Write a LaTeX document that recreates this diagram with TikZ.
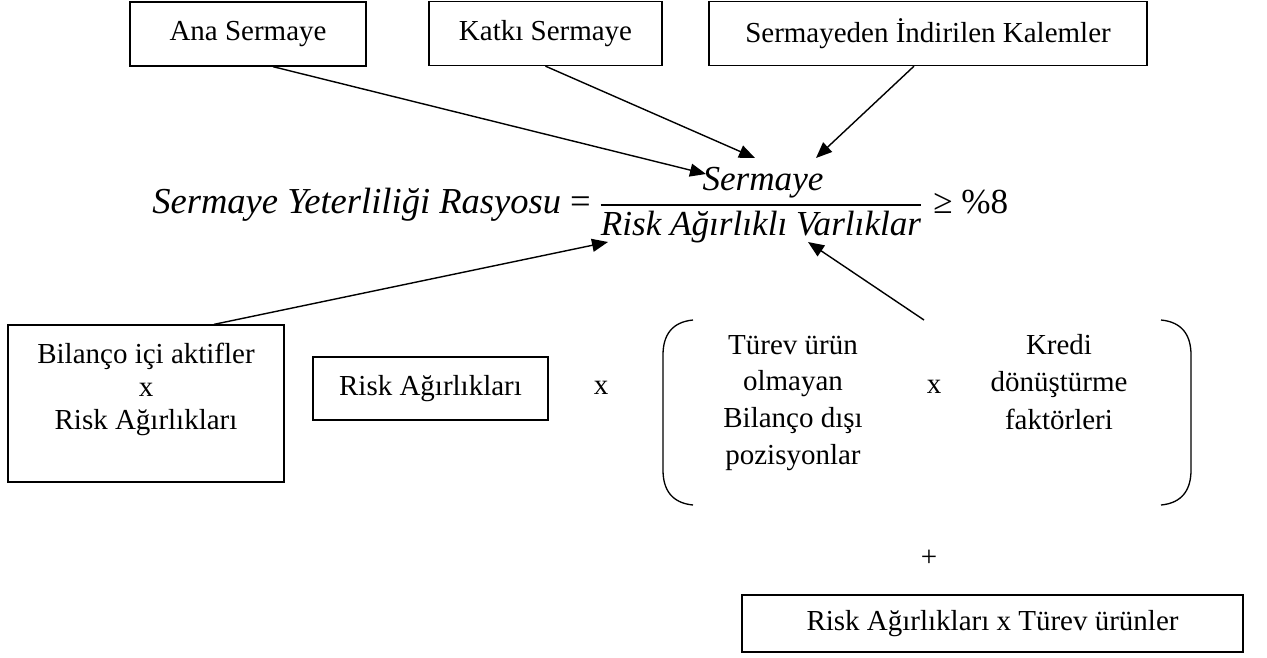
\documentclass[tikz,border=0pt]{standalone}
\usepackage{fontspec}
\setmainfont{Liberation Serif}
\usetikzlibrary{positioning,arrows.meta,calc}

\begin{document}
\begin{tikzpicture}[x=0.02cm, y=-0.02cm,
    kutu/.style={draw, rectangle, line width=0.75pt, inner sep=0pt, font=\fontsize{16.5}{19}\selectfont},
    yazi/.style={align=center, inner sep=0pt, font=\fontsize{16.5}{21}\selectfont},
    formul/.style={inner sep=0pt, font=\fontsize{20}{24}\selectfont},
    okcizgi/.style={-{Triangle[length=0.32cm, width=0.26cm]}, line width=0.8pt}]
    \useasboundingbox (0,0) rectangle (1267,657);

    % sermaye kalemleri
    \node[kutu, minimum width=4.72cm, minimum height=1.28cm] (ana) at (248,34) {Ana Sermaye};
    \node[kutu, minimum width=4.66cm, minimum height=1.28cm] (katki) at (545.5,33.5) {Katkı Sermaye};
    \node[kutu, minimum width=8.76cm, minimum height=1.28cm] (kalem) at (928,33.5) {Sermayeden İndirilen Kalemler};

    % oran
    \node[formul, font=\fontsize{20.8}{24}\selectfont, anchor=base west] (oran) at (152,213)
        {\textit{Sermaye Yeterliliği Rasyosu} =};
    \node[formul, anchor=base] (pay) at (763,190) {\textit{Sermaye}};
    \node[formul, anchor=base] (payda) at (761,235) {\textit{Risk Ağırlıklı Varlıklar}};
    \node[formul, anchor=base west] (sinir) at (933,213) {≥ \%8};
    \coordinate (kesir) at (762,205);
    \draw[line width=1.3pt] (payda.west |- kesir) -- (payda.east |- kesir);

    % risk agirlikli varliklar
    \node[kutu, minimum width=5.52cm, minimum height=3.14cm] (bilanco) at (146,403.5) {};
    \node[yazi, font=\fontsize{16.5}{18.8}\selectfont] (bilancoyazi) at (146,389)
        {Bilanço içi aktifler\\x\\Risk Ağırlıkları};
    \node[kutu, minimum width=4.7cm, minimum height=1.26cm] (riskag) at (430.5,388.5) {Risk Ağırlıkları};
    \node[yazi] (carpi1) at (601,388) {x};
    \draw[line width=0.75pt] (693,320) .. controls (672,322) and (663,335) .. (663,355) -- (663,470)
        .. controls (663,490) and (672,503) .. (693,505);
    \draw[line width=0.75pt] (1161,320) .. controls (1182,322) and (1191,335) .. (1191,355) -- (1191,470)
        .. controls (1191,490) and (1182,503) .. (1161,505);
    \node[yazi] (disi) at (793,403) {Türev ürün\\olmayan\\Bilanço dışı\\pozisyonlar};
    \node[yazi] (carpi2) at (934,387) {x};
    \node[yazi, font=\fontsize{16.5}{21.3}\selectfont] (kredi) at (1059,382) {Kredi\\dönüştürme\\faktörleri};
    \node[yazi] (arti) at (929,558) {+};
    \node[kutu, minimum width=10.02cm, minimum height=1.14cm] (turev) at (992.5,623.5) {Risk Ağırlıkları x Türev ürünler};
    \coordinate (grup) at (924,320);

    % oklar
    \coordinate (ucana) at (706,174);
    \coordinate (uckatki) at (755,158);
    \coordinate (uckalem) at (816,158);
    \coordinate (ucbilanco) at (608,242);
    \coordinate (ucgrup) at (808,242);
    \draw[okcizgi] ([xshift=0.5cm]ana.south) -- (ucana);
    \draw[okcizgi] (katki.south) -- (uckatki);
    \draw[okcizgi] ([xshift=-0.28cm]kalem.south) -- (uckalem);
    \draw[okcizgi] ([xshift=1.36cm]bilanco.north) -- (ucbilanco);
    \draw[okcizgi] (grup) -- (ucgrup);
\end{tikzpicture}
\end{document}
